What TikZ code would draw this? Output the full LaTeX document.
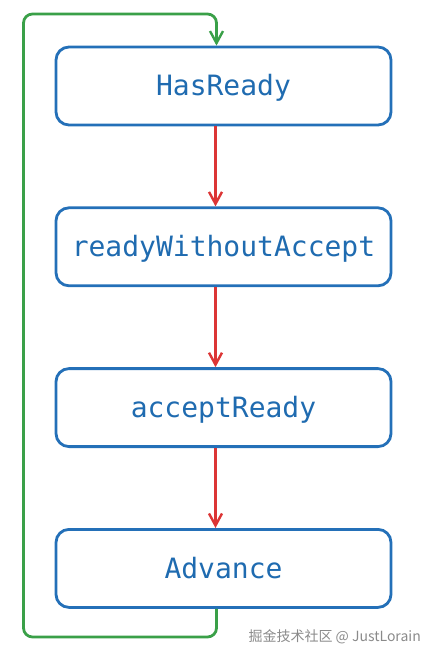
\documentclass[tikz,border=0pt]{standalone}
\usepackage{fontspec}
\usepackage{xcolor}
\usepackage{tikz}
\usetikzlibrary{arrows.meta,positioning}
\newfontfamily\monofnt{DejaVu Sans Mono}
\newfontfamily\cjkfnt{Noto Sans CJK SC}
\definecolor{boxblue}{HTML}{2470B8}
\definecolor{txtblue}{HTML}{1F6BB0}
\definecolor{redx}{HTML}{DC3535}
\definecolor{loopgreen}{HTML}{3AA048}
\definecolor{markgray}{HTML}{8A8A8A}
\tikzset{
  stage/.style={draw=boxblue,line width=2.8pt,rounded corners=13pt,minimum width=335pt,minimum height=78pt,font=\monofnt\fontsize{28}{30}\selectfont,text=txtblue,text depth=2pt},
  ar/.style={-{Straight Barb[length=12pt,width=13pt,line width=2.4pt]},line width=2.8pt,redx},
  back/.style={-{Straight Barb[length=12pt,width=13pt,line width=2.4pt]},line width=2.8pt,loopgreen,rounded corners=9pt}
}

\begin{document}
\begin{tikzpicture}[x=1pt,y=-1pt,node distance=80pt]
\useasboundingbox (0,0) rectangle (435,659);
\node[stage] (hr) at (223.5,86) {HasReady};
\node[stage,below=of hr] (rwa) {readyWithoutAccept};
\node[stage,below=of rwa] (acc) {acceptReady};
\node[stage,below=of acc] (adv) {Advance};
\draw[ar] ([xshift=-8pt]hr.south) -- ([xshift=-8pt]rwa.north);
\draw[ar] ([xshift=-8pt]rwa.south) -- ([xshift=-8pt]acc.north);
\draw[ar] ([xshift=-8pt]acc.south) -- ([xshift=-8pt]adv.north);
\coordinate (lpbot) at (23.5,637);
\coordinate (lptop) at (23.5,14);
\draw[back] ([xshift=-7pt]adv.south) |- (lpbot) -- (lptop) -| ([xshift=-7pt]hr.north);
\node[font=\cjkfnt\fontsize{14}{16}\selectfont,text=markgray,anchor=east,inner sep=0pt] (mark) at (421,637) {掘金技术社区 @ JustLorain};
\end{tikzpicture}
\end{document}
